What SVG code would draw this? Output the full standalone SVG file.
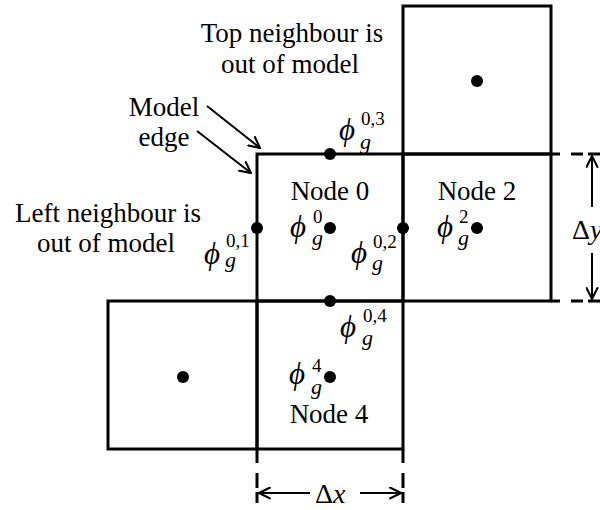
<svg xmlns="http://www.w3.org/2000/svg" width="600" height="510" viewBox="0 0 600 510">
<style>
.box{fill:none;stroke:#000;stroke-width:3}
.dot{fill:#000}
.t{font-family:"Liberation Serif","Times New Roman",serif;font-size:27px;fill:#000}
.m{font-family:"Liberation Serif","Times New Roman",serif;fill:#000}
.phi{font-size:31px;font-style:italic}
.sup{font-size:19px}
.sub{font-size:22px;font-style:italic}
.dash{fill:none;stroke:#000;stroke-width:3}
.arr{fill:none;stroke:#000;stroke-width:2}
</style>
<defs>
<marker id="ah" viewBox="0 0 10 10" refX="9" refY="5" markerWidth="13" markerHeight="13" markerUnits="userSpaceOnUse" orient="auto">
<path d="M0,0.5 L9,5 L0,9.5" fill="none" stroke="#000" stroke-width="1.6"/>
</marker>
</defs>
<rect width="600" height="510" fill="#fff"/>
<g id="node-top">
<rect class="box" x="403" y="6" width="148" height="148"/>
<circle class="dot" cx="477" cy="81" r="6"/>
</g>
<g id="node-2">
<rect class="box" x="403" y="154" width="148" height="147"/>
<circle class="dot" cx="477" cy="228" r="6"/>
<text class="t" x="477" y="200" text-anchor="middle">Node 2</text>
<text class="m phi" x="437" y="237">ϕ</text>
<text class="m sup" x="459" y="223">2</text>
<text class="m sub" x="458" y="245">g</text>
</g>
<g id="node-left">
<rect class="box" x="108" y="301" width="149" height="148"/>
<circle class="dot" cx="183" cy="377" r="6"/>
</g>
<g id="node-4">
<rect class="box" x="257" y="301" width="146" height="148"/>
<circle class="dot" cx="330" cy="377" r="6"/>
<text class="t" x="329" y="423" text-anchor="middle">Node 4</text>
<text class="m phi" x="289" y="384">ϕ</text>
<text class="m sup" x="312" y="372">4</text>
<text class="m sub" x="311" y="394">g</text>
</g>
<g id="node-0">
<rect class="box" x="257" y="154" width="146" height="147"/>
<circle class="dot" cx="330" cy="228" r="6"/>
<circle class="dot" cx="330" cy="154" r="6"/>
<circle class="dot" cx="257" cy="228" r="6"/>
<circle class="dot" cx="403" cy="228" r="6"/>
<circle class="dot" cx="330" cy="301" r="6"/>
<text class="t" x="330" y="200" text-anchor="middle">Node 0</text>
<text class="m phi" x="290" y="237">ϕ</text>
<text class="m sup" x="313" y="223">0</text>
<text class="m sub" x="312" y="245">g</text>
<text class="m phi" x="351" y="263">ϕ</text>
<text class="m sup" x="373" y="248">0,2</text>
<text class="m sub" x="372" y="270">g</text>
<text class="m phi" x="339" y="140">ϕ</text>
<text class="m sup" x="361" y="125">0,3</text>
<text class="m sub" x="360" y="149">g</text>
<text class="m phi" x="204" y="264">ϕ</text>
<text class="m sup" x="226" y="247">0,1</text>
<text class="m sub" x="225" y="267">g</text>
<text class="m phi" x="340" y="337">ϕ</text>
<text class="m sup" x="363" y="322">0,4</text>
<text class="m sub" x="362" y="345">g</text>
</g>
<g id="labels">
<text class="t" x="292" y="42" text-anchor="middle">Top neighbour is</text>
<text class="t" x="290" y="73" text-anchor="middle">out of model</text>
<text class="t" x="164" y="116" text-anchor="middle">Model</text>
<text class="t" x="164" y="146" text-anchor="middle">edge</text>
<text class="t" x="108" y="222" text-anchor="middle">Left neighbour is</text>
<text class="t" x="106" y="252" text-anchor="middle">out of model</text>
<text class="m" x="315" y="503" font-size="28">Δ<tspan font-style="italic">x</tspan></text>
<text class="m" x="572" y="239" font-size="28">Δ<tspan font-style="italic">y</tspan></text>
</g>
<g id="connectors">
<line class="arr" x1="207" y1="106" x2="260" y2="148" marker-end="url(#ah)"/>
<line class="arr" x1="197" y1="131" x2="251" y2="173" marker-end="url(#ah)"/>
<line class="dash" x1="551" y1="154" x2="600" y2="154" stroke-dasharray="9,11,12,5,20"/>
<line class="dash" x1="551" y1="301" x2="600" y2="301" stroke-dasharray="9,11,12,5,20"/>
<line class="dash" x1="257" y1="449" x2="257" y2="503" stroke-dasharray="14,10,15,4,11"/>
<line class="dash" x1="403" y1="449" x2="403" y2="503" stroke-dasharray="14,10,15,4,11"/>
<line class="arr" x1="310" y1="493" x2="259" y2="493" marker-end="url(#ah)"/>
<line class="arr" x1="360" y1="493" x2="401" y2="493" marker-end="url(#ah)"/>
<line class="arr" x1="592" y1="207" x2="592" y2="156" marker-end="url(#ah)"/>
<line class="arr" x1="592" y1="253" x2="592" y2="299" marker-end="url(#ah)"/>
</g>
</svg>
